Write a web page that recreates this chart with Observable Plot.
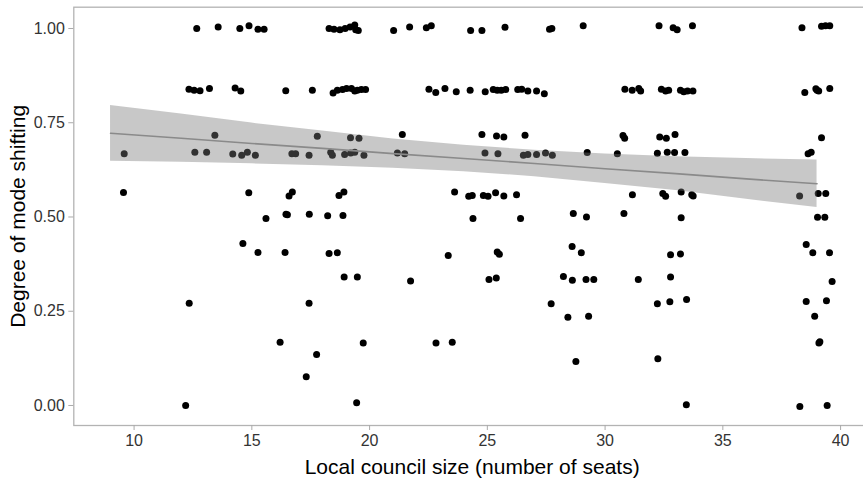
<!DOCTYPE html>
<html>
<head>
<meta charset="utf-8">
<script src="https://cdn.jsdelivr.net/npm/d3@7"></script>
<script src="https://cdn.jsdelivr.net/npm/@observablehq/plot@0.6"></script>
<style>
  html, body { margin: 0; padding: 0; background: #fff; }
  #chart svg { display: block; }
</style>
</head>
<body>
<div id="chart"></div>
<script>
// Jittered observations: local council size (x) vs degree of mode shifting (y)
const seats = [
  // ~1.00
  12.66,13.57,14.49,14.88,15.26,15.52,18.28,18.49,18.74,18.96,19.17,19.37,19.41,19.52,21.02,21.70,22.41,22.62,24.29,24.77,25.75,27.64,27.74,29.07,32.29,32.89,33.06,33.71,38.36,39.19,39.36,39.54,
  // ~0.833
  12.33,12.55,12.80,13.20,14.29,14.53,16.44,17.57,
  18.45,18.63,18.85,19.02,19.23,19.37,19.48,19.65,19.83,
  22.52,22.81,23.20,23.68,24.27,24.91,
  25.25,25.42,25.59,25.78,26.29,26.46,26.72,27.09,27.42,
  30.84,31.15,31.43,31.51,
  32.39,32.57,32.70,33.20,33.34,33.50,33.73,
  38.48,38.95,39.00,39.07,39.54,
  // ~0.714
  13.43,17.78,19.19,19.55,21.39,24.77,25.39,25.70,26.60,30.76,30.83,32.32,32.60,32.97,39.19,
  // ~0.667
  9.58,12.58,13.08,14.19,14.57,14.81,15.15,
  16.70,16.86,17.43,
  18.35,18.42,18.94,19.20,19.37,19.76,
  21.18,21.49,
  24.90,25.45,26.53,26.72,27.09,27.47,27.76,
  29.24,30.52,
  32.22,32.64,32.95,33.39,
  38.62,38.75,
  // ~0.5625
  9.55,14.87,16.58,16.72,18.70,18.91,23.61,24.21,24.36,24.83,25.03,25.35,25.70,26.24,31.16,32.45,32.57,33.23,33.68,33.74,38.26,39.05,39.37,
  // ~0.5
  15.60,16.45,16.51,17.44,18.22,18.87,24.39,26.41,28.65,29.21,30.80,33.23,39.02,39.33,
  // ~0.43
  14.62,28.60,38.54,
  // ~0.4
  15.26,16.41,18.28,18.63,23.34,25.42,25.51,28.99,32.78,33.20,38.82,39.53,
  // ~0.333
  18.92,19.48,21.74,25.07,25.38,28.23,28.61,29.19,29.52,31.41,32.78,39.64,
  // ~0.27
  12.34,17.43,27.71,32.22,32.75,33.46,38.54,39.40,
  // ~0.236
  28.42,29.30,38.90,
  // ~0.167
  16.20,19.73,22.82,23.51,39.08,39.12,
  // ~0.125
  17.75,28.76,32.24,
  // ~0.075
  17.31,
  // ~0.00
  12.19,19.45,33.45,38.27,39.43
];
const shifting = [
  // ~1.00
  1.000,1.004,1.000,1.007,0.998,0.998,1.000,0.998,0.997,1.000,1.004,1.009,0.997,0.995,0.995,1.004,1.002,1.007,0.995,0.995,1.003,0.998,1.000,1.007,1.007,1.002,0.997,1.007,1.002,1.006,1.007,1.007,
  // ~0.833
  0.839,0.836,0.835,0.841,0.842,0.834,0.835,0.836,
  0.829,0.836,0.838,0.841,0.841,0.834,0.836,0.838,0.838,
  0.839,0.830,0.841,0.832,0.836,0.832,
  0.838,0.836,0.836,0.838,0.838,0.839,0.834,0.834,0.827,
  0.839,0.836,0.841,0.834,
  0.839,0.834,0.836,0.836,0.832,0.834,0.834,
  0.830,0.840,0.836,0.834,0.841,
  // ~0.714
  0.717,0.714,0.710,0.709,0.719,0.719,0.715,0.712,0.717,0.716,0.709,0.712,0.709,0.719,0.710,
  // ~0.667
  0.668,0.672,0.672,0.667,0.664,0.672,0.664,
  0.668,0.668,0.664,
  0.672,0.664,0.666,0.670,0.672,0.664,
  0.670,0.668,
  0.670,0.668,0.664,0.666,0.666,0.670,0.664,
  0.671,0.668,
  0.669,0.672,0.671,0.671,
  0.668,0.672,
  // ~0.5625
  0.565,0.564,0.556,0.566,0.557,0.566,0.566,0.555,0.557,0.557,0.555,0.564,0.556,0.559,0.559,0.562,0.555,0.566,0.559,0.556,0.556,0.562,0.562,
  // ~0.5
  0.496,0.507,0.506,0.507,0.503,0.504,0.496,0.496,0.509,0.500,0.509,0.498,0.499,0.499,
  // ~0.43
  0.430,0.422,0.427,
  // ~0.4
  0.406,0.406,0.403,0.405,0.398,0.407,0.401,0.405,0.400,0.402,0.405,0.405,
  // ~0.333
  0.341,0.341,0.330,0.334,0.338,0.342,0.332,0.334,0.334,0.334,0.341,0.329,
  // ~0.27
  0.271,0.271,0.270,0.270,0.275,0.281,0.276,0.278,
  // ~0.236
  0.234,0.237,0.237,
  // ~0.167
  0.168,0.166,0.166,0.168,0.166,0.169,
  // ~0.125
  0.135,0.117,0.124,
  // ~0.075
  0.076,
  // ~0.00
  0.000,0.007,0.002,-0.003,0.000
];

// Linear fit with 95% confidence band
const fitX  = [9,     12,    15,    18,    21,    24,    27,    30,    33,    36,    39];
const fitY  = [0.722, 0.709, 0.695, 0.682, 0.668, 0.655, 0.642, 0.628, 0.615, 0.601, 0.588];
const fitLo = [0.648, 0.645, 0.641, 0.636, 0.629, 0.620, 0.607, 0.589, 0.570, 0.547, 0.525];
const fitHi = [0.796, 0.773, 0.749, 0.728, 0.707, 0.690, 0.677, 0.667, 0.660, 0.655, 0.651];

const xTicks = [10, 15, 20, 25, 30, 35, 40];
const yTicks = [0, 0.25, 0.5, 0.75, 1];
const xTitle = "Local council size (number of seats)";
const yTitle = "Degree of mode shifting";

const points = seats.map((s, i) => ({seats: s, shift: shifting[i]}));
const band = fitX.map((x, i) => ({x, fit: fitY[i], lo: fitLo[i], hi: fitHi[i]}));

const chart = Plot.plot({
  width: 863,
  height: 479,
  marginLeft: 73.3,
  marginRight: -7,
  marginTop: 6.7,
  marginBottom: 54,
  style: {fontFamily: "'Liberation Sans', Arial, Helvetica, sans-serif", color: "#333", background: "#fff"},
  x: {domain: [7.44, 41.27]},
  y: {domain: [-0.0531, 1.0565]},
  marks: [
    Plot.frame({stroke: "#b3b3b3", strokeWidth: 1.3}),
    Plot.dot(points, {x: "seats", y: "shift", r: 3.5, fill: "#000"}),
    Plot.areaY(band, {x: "x", y1: "lo", y2: "hi", fill: "#7a7a7a", fillOpacity: 0.41}),
    Plot.line(band, {x: "x", y: "fit", stroke: "#8a8a8a", strokeWidth: 1.6}),
    Plot.axisX({ticks: xTicks, tickSize: 5, tickPadding: 4, fontSize: 16, stroke: "#aaa", fill: "#333", label: null}),
    Plot.axisY({ticks: yTicks, tickFormat: d3.format(".2f"), tickSize: 5, tickPadding: 4, fontSize: 16, stroke: "#aaa", fill: "#333", label: null}),
    Plot.text([xTitle], {text: d => d, frameAnchor: "bottom", dy: 42, textAnchor: "middle", lineAnchor: "middle", fontSize: 21, fill: "#000"}),
    Plot.text([yTitle], {text: d => d, frameAnchor: "left", dx: -56, rotate: -90, textAnchor: "middle", lineAnchor: "middle", fontSize: 21, fill: "#000"})
  ]
});
document.getElementById("chart").appendChild(chart);
</script>
</body>
</html>
